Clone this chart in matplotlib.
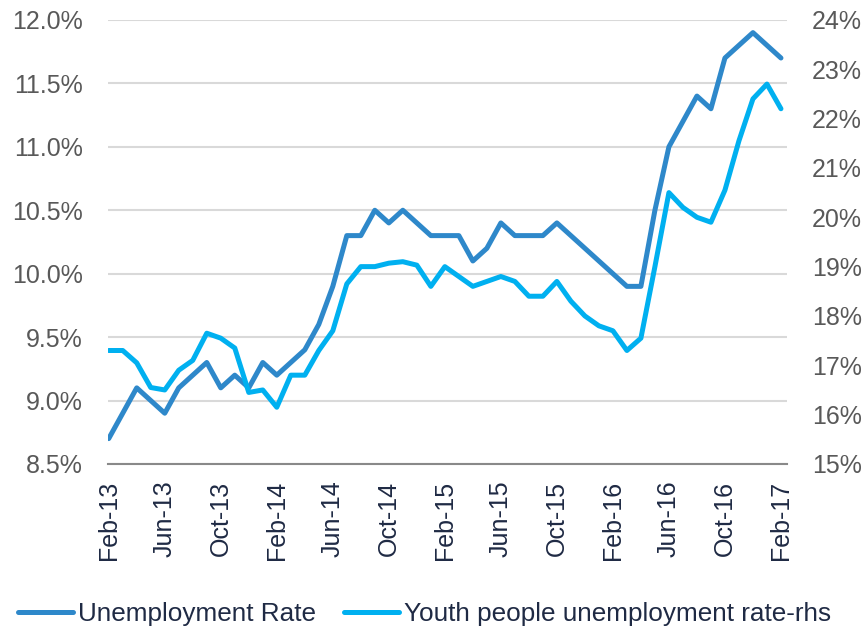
import numpy as np
import matplotlib
matplotlib.use("Agg")
import matplotlib.pyplot as plt
from matplotlib.ticker import FuncFormatter, MultipleLocator

# monthly readings, Feb-13 .. Feb-17
unemployment = [8.7, 8.9, 9.1, 9.0, 8.9, 9.1, 9.2, 9.3, 9.1, 9.2, 9.1, 9.3,
                9.2, 9.3, 9.4, 9.6, 9.9, 10.3, 10.3, 10.5, 10.4, 10.5, 10.4, 10.3,
                10.3, 10.3, 10.1, 10.2, 10.4, 10.3, 10.3, 10.3, 10.4, 10.3, 10.2, 10.1,
                10.0, 9.9, 9.9, 10.5, 11.0, 11.2, 11.4, 11.3, 11.7, 11.8, 11.9, 11.8,
                11.7]

youth = [17.3, 17.3, 17.05, 16.55, 16.5, 16.9, 17.1, 17.65, 17.55, 17.35, 16.45, 16.5,
         16.15, 16.8, 16.8, 17.3, 17.7, 18.65, 19.0, 19.0, 19.07, 19.1, 19.03, 18.6,
         19.0, 18.8, 18.6, 18.7, 18.8, 18.7, 18.4, 18.4, 18.7, 18.3, 18.0, 17.8,
         17.7, 17.3, 17.55, 19.0, 20.5, 20.2, 20.0, 19.9, 20.55, 21.55, 22.4, 22.7,
         22.2]

tick_labels = ['Feb-13', 'Jun-13', 'Oct-13', 'Feb-14', 'Jun-14', 'Oct-14', 'Feb-15',
               'Jun-15', 'Oct-15', 'Feb-16', 'Jun-16', 'Oct-16', 'Feb-17']

dark_blue = '#2E88CA'
light_blue = '#00B0F0'
tick_grey = '#595959'
navy = '#1F2A44'

plt.rcParams['font.family'] = ['Liberation Sans', 'DejaVu Sans']

x = np.arange(len(unemployment))

fig = plt.figure(figsize=(8.67, 6.31), dpi=100)
ax = fig.add_axes([0.1246, 0.2647, 0.7831, 0.7037])
ax2 = ax.twinx()

l1, = ax.plot(x, unemployment, color=dark_blue, linewidth=3.6,
              solid_joinstyle='round', solid_capstyle='round', label='Unemployment Rate')
l2, = ax2.plot(x, youth, color=light_blue, linewidth=3.6,
               solid_joinstyle='round', solid_capstyle='round',
               label='Youth people unemployment rate-rhs')

ax.set_ylim(8.5, 12.0)
ax.yaxis.set_major_locator(MultipleLocator(0.5))
ax.yaxis.set_major_formatter(FuncFormatter(lambda v, p: '%.1f%%' % v))
ax2.set_ylim(15, 24)
ax2.yaxis.set_major_locator(MultipleLocator(1))
ax2.yaxis.set_major_formatter(FuncFormatter(lambda v, p: '%d%%' % v))

ax.set_xlim(-0.05, 48.43)
ax.set_xticks(x[::4])
ax.set_xticklabels(tick_labels, rotation=90)

ax.grid(axis='y', color='#D9D9D9', linewidth=1.5)
ax.set_axisbelow(True)
for a in (ax, ax2):
    for s in ['top', 'left', 'right', 'bottom']:
        a.spines[s].set_visible(False)
ax.spines['bottom'].set_visible(True)
ax.spines['bottom'].set_color('#898989')
ax.spines['bottom'].set_linewidth(1.5)

ax.tick_params(axis='y', length=0, labelsize=18, labelcolor=tick_grey, pad=18)
ax2.tick_params(axis='y', length=0, labelsize=18, labelcolor=tick_grey, pad=18)
ax.tick_params(axis='x', length=0, labelsize=18, labelcolor=navy, pad=12)

leg = fig.legend(handles=[l1, l2], loc='center left', bbox_to_anchor=(0.015, 0.027),
                 ncol=2, frameon=False, fontsize=18.8, handlelength=2.1,
                 handletextpad=0.2, columnspacing=1.05, borderaxespad=0.0,
                 borderpad=0.2)
for t in leg.get_texts():
    t.set_color(navy)

fig.savefig('out.png', dpi=100)
